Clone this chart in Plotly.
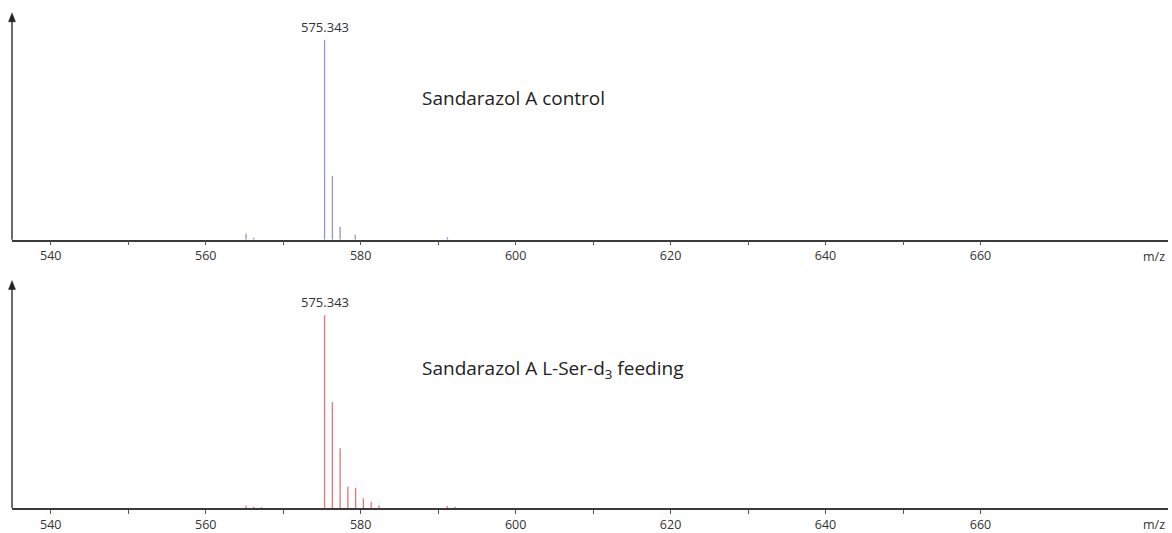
import plotly.graph_objects as go

# Centroid peak lists (m/z, relative intensity) for the two spectra
control_mz = [565.2, 566.2, 575.343, 576.35, 577.35, 579.3, 591.2]
control_int = [0.030, 0.010, 1.000, 0.320, 0.065, 0.025, 0.012]

fed_mz = [565.2, 566.2, 567.2, 575.343, 576.35, 577.35, 578.35, 579.35,
          580.35, 581.35, 582.35, 591.2, 592.2]
fed_int = [0.012, 0.006, 0.005, 1.000, 0.549, 0.310, 0.110, 0.103,
           0.050, 0.030, 0.012, 0.010, 0.006]

panel_titles = ["Sandarazol A control", "Sandarazol A L-Ser-d<sub>3</sub> feeding"]
apex_label = "575.343"

# labelled m/z ticks and the unlabelled ticks between them
major_ticks = [540, 560, 580, 600, 620, 640, 660]
minor_ticks = [550, 570, 590, 610, 630, 650]

W, H = 1172, 533
x_range = [535.0, 684.2]
x_dom = [12 / W, 1168 / W]

def stick_xy(mz, inten):
    xs, ys = [], []
    for m, i in zip(mz, inten):
        xs += [m, m, None]
        ys += [0, i, None]
    return xs, ys

fig = go.Figure()

cx, cy = stick_xy(control_mz, control_int)
fig.add_trace(go.Scatter(x=cx, y=cy, mode="lines", xaxis="x", yaxis="y",
                         line=dict(color="#9494cc", width=1.3), hoverinfo="skip"))
fx, fy = stick_xy(fed_mz, fed_int)
fig.add_trace(go.Scatter(x=fx, y=fy, mode="lines", xaxis="x2", yaxis="y2",
                         line=dict(color="#e87276", width=1.3), hoverinfo="skip"))

# panel geometry: baseline and arrow tip in pixels from the top
top_base, top_tip = 242, 13
bot_base, bot_tip = 512.7, 283.3
top_yr = [0, 1 / (202 / (top_base - top_tip))]
bot_yr = [0, 1 / (194.4 / (bot_base - bot_tip))]

axis_common = dict(range=x_range, showgrid=False, zeroline=False, showline=True,
                   linecolor="#3a3a3a", linewidth=1.5, ticks="outside", ticklen=4,
                   tickcolor="#555", tickwidth=1,
                   tickmode="array", tickvals=major_ticks,
                   minor=dict(tickmode="array", tickvals=minor_ticks, ticks="outside",
                              ticklen=4, tickcolor="#555", tickwidth=1, showgrid=False),
                   tickfont=dict(family="Open Sans", size=12.5, color="#333"))
yaxis_common = dict(showgrid=False, zeroline=False, showline=False,
                    showticklabels=False, ticks="")

fig.update_layout(
    width=W, height=H,
    margin=dict(l=0, r=0, t=0, b=0),
    paper_bgcolor="white", plot_bgcolor="white",
    showlegend=False,
    xaxis=dict(domain=x_dom, anchor="y", **axis_common),
    yaxis=dict(domain=[1 - top_base / H, 1 - top_tip / H], range=top_yr,
               anchor="x", **yaxis_common),
    xaxis2=dict(domain=x_dom, anchor="y2", **axis_common),
    yaxis2=dict(domain=[1 - bot_base / H, 1 - bot_tip / H], range=bot_yr,
                anchor="x2", **yaxis_common),
)

# vertical intensity axes drawn as a line plus a filled arrowhead
shapes = []
ax_x = x_dom[0]
for base, tip in [(top_base, top_tip), (bot_base, bot_tip)]:
    shapes.append(dict(type="line", xref="paper", yref="paper",
                       x0=ax_x, x1=ax_x, y0=1 - base / H, y1=1 - (tip + 6) / H,
                       line=dict(color="#3a3a3a", width=1.5)))
    hw = 3.5 / W
    shapes.append(dict(type="path", xref="paper", yref="paper",
                       path=f"M {ax_x - hw} {1 - (tip + 9) / H} L {ax_x} {1 - tip / H} "
                            f"L {ax_x + hw} {1 - (tip + 9) / H} Z",
                       fillcolor="#222", line=dict(color="#222", width=0.5)))

ann = []
title_y = [1 - 99 / H, 1 - 372 / H]
for k, (xref, yref) in enumerate([("x", "y"), ("x2", "y2")]):
    ann.append(dict(x=575.343, y=1.0, xref=xref, yref=yref, text=apex_label,
                    showarrow=False, yanchor="bottom", yshift=2,
                    font=dict(family="Open Sans", size=13, color="#333")))
    ann.append(dict(x=587.6, y=title_y[k], xref=xref, yref="paper",
                    text=panel_titles[k], showarrow=False, xanchor="left",
                    yanchor="middle",
                    font=dict(family="Open Sans", size=19, color="#222")))
    ann.append(dict(x=1167 / W, y=0, xref="paper", yref=yref, text="m/z",
                    showarrow=False, xanchor="right", yanchor="top", yshift=-6,
                    font=dict(family="Open Sans", size=12.5, color="#333")))

fig.update_layout(annotations=ann, shapes=shapes)
fig.write_html("out.html")
